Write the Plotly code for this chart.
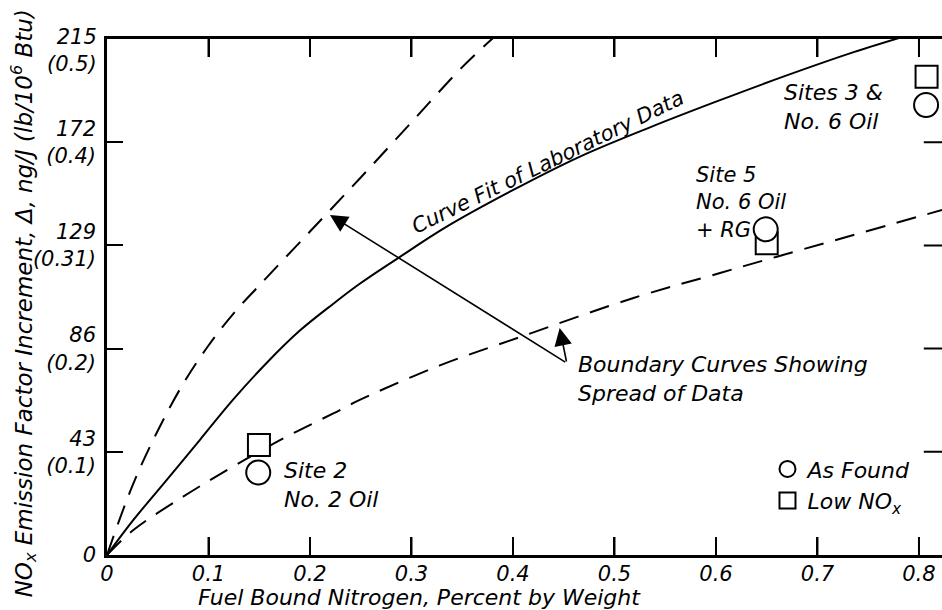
import plotly.graph_objects as go

# ---- data ----
fit_x = [0, 0.026, 0.0587, 0.0916, 0.124, 0.157, 0.190, 0.223, 0.249, 0.2864, 0.3347, 0.4003, 0.466, 0.535, 0.6007, 0.6663, 0.732, 0.781]
fit_y = [0, 14.6, 31.2, 48, 64.6, 79.9, 93.5, 104.7, 113, 123.6, 136.8, 152.1, 166, 178.2, 189, 199.3, 209, 215.5]

upper_x = [0, 0.025, 0.05, 0.075, 0.1, 0.125, 0.15, 0.2, 0.25, 0.3, 0.35, 0.3806]
upper_y = [0, 28.8, 51.8, 71.3, 87.3, 100.8, 112.3, 134.8, 157.3, 180.3, 203.3, 215.5]

lower_x = [0, 0.026, 0.075, 0.124, 0.177, 0.223, 0.249, 0.328, 0.407, 0.518, 0.604, 0.66, 0.8227]
lower_y = [0, 10.4, 24.3, 36.8, 49.3, 59, 64.6, 79, 90.8, 107, 117.5, 124.3, 143.75]

as_found_x = [0.149, 0.649, 0.807]
as_found_y = [34.4, 135.7, 187.5]
low_nox_x = [0.1497, 0.650, 0.8075]
low_nox_y = [45.8, 129.9, 199.3]

x_ticks = [0, 0.1, 0.2, 0.3, 0.4, 0.5, 0.6, 0.7, 0.8]
x_ticktext = ["0", "0.1", "0.2", "0.3", "0.4", "0.5", "0.6", "0.7", "0.8"]
y_ticks = [0, 43, 86, 129, 172, 215]
y_ticktext = ["0", "43<br>(0.1)", "86<br>(0.2)", "129<br>(0.31)", "172<br>(0.4)", ""]
top_label = "215<br>(0.5)"

# the original is cropped at the right: the frame runs to the window edge
X_RANGE = [0, 0.8227]
Y_RANGE = [0, 215]
TICK_Y = 7.5  # inward tick length on the x frame edges, in y units (~18 px)

FONT = "DejaVu Sans"

fig = go.Figure()
dash = "20px,12px"
fig.add_trace(go.Scatter(x=fit_x, y=fit_y, mode="lines", line=dict(color="black", width=2, shape="spline"),
                         showlegend=False, hoverinfo="skip"))
fig.add_trace(go.Scatter(x=upper_x, y=upper_y, mode="lines",
                         line=dict(color="black", width=2, dash=dash, shape="spline"),
                         showlegend=False, hoverinfo="skip"))
fig.add_trace(go.Scatter(x=lower_x, y=lower_y, mode="lines",
                         line=dict(color="black", width=2, dash=dash, shape="spline"),
                         showlegend=False, hoverinfo="skip"))
fig.add_trace(go.Scatter(x=low_nox_x, y=low_nox_y, mode="markers", name="Low NO<sub>x</sub>", legendrank=2,
                         marker=dict(symbol="square", size=22, color="white", line=dict(color="black", width=2))))
fig.add_trace(go.Scatter(x=as_found_x, y=as_found_y, mode="markers", name="As Found", legendrank=1,
                         marker=dict(symbol="circle", size=24, color="white", line=dict(color="black", width=2))))

# inward ticks on bottom and top frame edges, at the x tick values
bx, by = [], []
for v in x_ticks[1:]:
    bx += [v, v, None, v, v, None]
    by += [Y_RANGE[0], Y_RANGE[0] + TICK_Y, None, Y_RANGE[1], Y_RANGE[1] - TICK_Y, None]
fig.add_trace(go.Scatter(x=bx, y=by, mode="lines", line=dict(color="black", width=2),
                         showlegend=False, hoverinfo="skip", connectgaps=False))
# inward ticks on the right frame edge: line markers centred on the edge, outer half clipped away
fig.add_trace(go.Scatter(x=[X_RANGE[1]] * len(y_ticks[1:-1]), y=y_ticks[1:-1], mode="markers",
                         marker=dict(symbol="line-ew-open", size=26, color="black",
                                     line=dict(color="black", width=2)),
                         showlegend=False, hoverinfo="skip", cliponaxis=True))

tf = dict(family=FONT, size=21, color="black", style="italic")
afont = dict(family=FONT, size=22, color="black", style="italic")

fig.update_layout(
    width=942, height=610,
    margin=dict(l=107, r=0, t=39, b=55),
    paper_bgcolor="white", plot_bgcolor="white",
    xaxis=dict(range=X_RANGE, tickvals=x_ticks, ticktext=x_ticktext, ticks="inside", ticklen=18, tickwidth=2,
               tickcolor="black", showline=True, linecolor="black", linewidth=2.5, showgrid=False,
               zeroline=False, mirror="ticks", tickfont=tf, ticklabelstandoff=-2),
    yaxis=dict(range=Y_RANGE, tickvals=y_ticks, ticktext=y_ticktext, ticks="inside", ticklen=16, tickwidth=2,
               tickcolor="black", showline=True, linecolor="black", linewidth=2.5, showgrid=False, zeroline=False,
               tickfont=tf, ticklabelstandoff=4),
    legend=dict(x=0.791, y=0.207, xanchor="left", yanchor="top", bgcolor="rgba(0,0,0,0)", borderwidth=0,
                font=afont, tracegroupgap=0),
    showlegend=True,
)

# top tick label (first line sits at the tick)
fig.add_annotation(x=0, y=y_ticks[-1], xref="paper", yref="y", text=top_label, showarrow=False,
                   xanchor="right", yanchor="middle", align="right", xshift=-8, yshift=-11.5, font=tf)

# arrows: (tip x, tip y, tail x, tail y)
arrows = [(0.2197, 141.7, 0.453, 80), (0.446, 94.6, 0.453, 80)]
for ax_, ay_, sx, sy in arrows:
    fig.add_annotation(x=ax_, y=ay_, ax=sx, ay=sy, xref="x", yref="y", axref="x", ayref="y", text="",
                       showarrow=True, arrowhead=2, arrowsize=2.2, arrowwidth=1.6, arrowcolor="black")

labels = [
    ("Site 2<br>No. 2 Oil", 0.1724, 29, 22),
    ("Site 5<br>No. 6 Oil<br>+ RG", 0.578, 147, 21),
    ("Sites 3 &amp;<br>No. 6 Oil", 0.665, 186.5, 22),
    ("Boundary Curves Showing<br>Spread of Data", 0.462, 73.5, 22),
]
for txt, lx, ly, sz in labels:
    fig.add_annotation(x=lx, y=ly, xref="x", yref="y", text=txt, showarrow=False, xanchor="left",
                       yanchor="middle", align="left",
                       font=dict(family=FONT, size=sz, color="black", style="italic"))

fig.add_annotation(x=0.4345, y=163.75, xref="x", yref="y", text="Curve Fit of Laboratory Data",
                   showarrow=False, textangle=-26, xanchor="center", yanchor="middle",
                   font=dict(family=FONT, size=21, color="black", style="italic"))

fig.add_annotation(x=0.374, y=-0.0833, xref="paper", yref="paper", xanchor="center", yanchor="middle",
                   text="Fuel Bound Nitrogen, Percent by Weight", showarrow=False, font=afont)
fig.add_annotation(x=-0.1004, y=0.488, xref="paper", yref="paper", textangle=-90, xanchor="center",
                   yanchor="middle",
                   text="NO<sub>x</sub> Emission Factor Increment, Δ, ng/J (lb/10<sup>6</sup> Btu)",
                   showarrow=False, font=dict(family=FONT, size=23, color="black", style="italic"))

# remove the page's default body margin so the 942x610 figure fills the window without scrollbars
fig.write_html("out.html", config={"displayModeBar": False},
               post_script="document.body.style.margin='0';document.body.style.overflow='hidden';")
